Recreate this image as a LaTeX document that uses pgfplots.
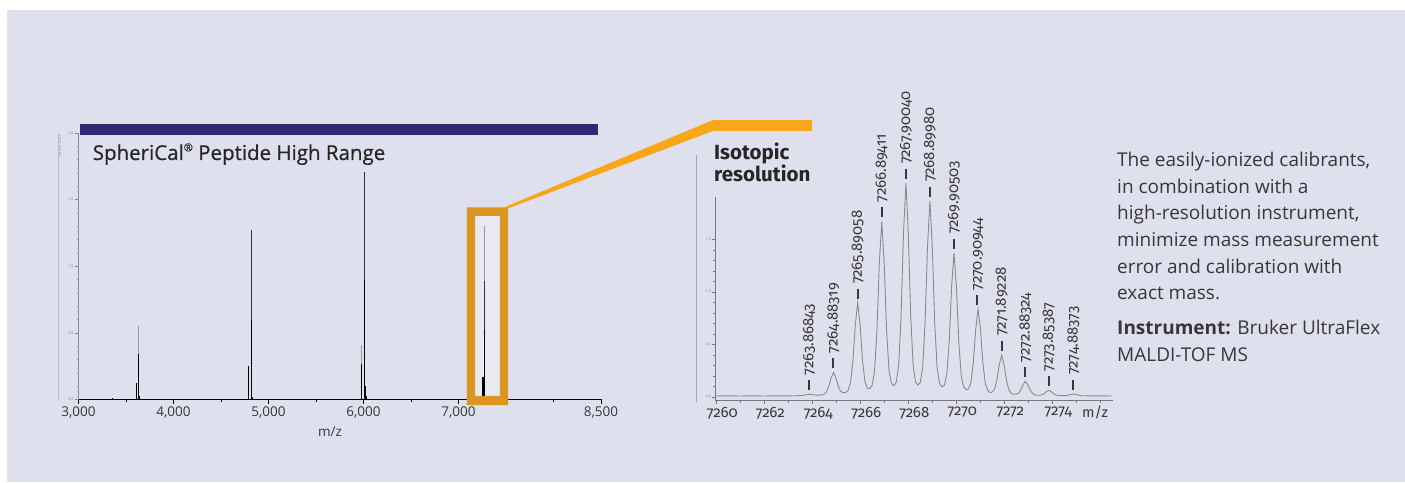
\documentclass[border=0pt]{standalone}
\usepackage{fontspec}
\setmainfont{Open Sans}
\newfontfamily\titlefont{Open Sans}[FakeBold=0.7]
\newfontfamily\fira[Numbers=OldStyle]{Fira Sans}
\usepackage{pgfplots}
\pgfplotsset{compat=1.18}

\definecolor{panel}{RGB}{223,224,238}
\definecolor{navy}{RGB}{47,42,120}
\definecolor{orangebar}{RGB}{249,166,27}
\definecolor{boxorange}{RGB}{218,150,32}
\definecolor{boxin}{RGB}{233,233,242}
\definecolor{txt}{RGB}{55,55,55}
\definecolor{curve}{RGB}{138,138,138}
\definecolor{axgray}{RGB}{120,120,120}

\newcommand\pk[1]{\hspace{4pt}\rule[0.22em]{10pt}{2pt}\hspace{5pt}#1}

\begin{document}
\begin{tikzpicture}
\path[use as bounding box] (0pt,0pt) rectangle (1405pt,482pt);
\begin{scope}[x=1pt,y=1pt]
  \fill[white] (0,0) rectangle (1405,482);
  \fill[panel] (7,0) rectangle (1405,472);
  % title bar
  \fill[navy] (80,347) rectangle (598,358);
  % inside of the zoom box
  \fill[boxin] (475,86) rectangle (500,266);
  % faint image borders
  \draw[black!25, line width=0.5pt] (58,82) -- (58,349);
  \draw[black!35, line width=0.6pt] (696,80) -- (696,327);
\end{scope}

% ---------------- full spectrum ----------------
\begin{axis}[
  at={(78.5pt,82.5pt)}, anchor=south west,
  scale only axis, width=522.5pt, height=266.5pt,
  xmin=3000, xmax=8500, ymin=0, ymax=2,
  axis x line*=bottom, axis y line*=left,
  x axis line style={black, line width=1.6pt},
  y axis line style={black!45, line width=0.5pt},
  xtick={3000,4000,5000,6000,7000,8500},
  xticklabels={{3,000},{4,000},{5,000},{6,000},{7,000},{8,500}},
  minor xtick={3500,4500,5500,6500,7500,8000},
  ytick={0,0.5,1,1.5,2},
  yticklabels={0.0,0.5,1.0,1.5,2.0},
  minor y tick num=4,
  tick align=outside,
  major tick length=4pt, minor tick length=2pt,
  x tick style={black, line width=1pt},
  y tick style={black!45, line width=0.4pt},
  xticklabel style={font=\fontsize{13.5}{14}\selectfont, text=txt},
  yticklabel style={font=\fontsize{3.5}{4}\selectfont, text=black!50, inner sep=1pt},
  clip=false,
]
\addplot[ycomb, black!40, line width=0.8pt] coordinates {
  (3630,0.553) (7268,1.300) (5978,0.410)
};
\addplot[ycomb, black!80, line width=0.8pt] coordinates {
  (4815,1.269) (6005,1.709) (4818,0.869) (7270,0.887)
};
\addplot[ycomb, black, line width=0.8pt] coordinates {
  (3630,0.339) (3613,0.126) (4790,0.251) (5980,0.266) (6015,0.100)
  (7268,0.523) (3360,0.015) (3642,0.030) (4830,0.020) (6028,0.030) (7285,0.030)
  (4815,0.600) (6005,0.900)
};
\addplot[ycomb, black, line width=3pt] coordinates {(7261,0.170)};
\end{axis}

\begin{scope}[x=1pt,y=1pt]
  % zoom box frame
  \fill[boxorange, even odd rule] (466.9,77) rectangle (508.1,274.7)
                                  (475.1,86) rectangle (499.8,266);
  % connector and bar
  \fill[orangebar] (506,275.5) -- (713,362) -- (713,351) -- (506,272.8) -- cycle;
  \fill[orangebar] (713,351) rectangle (812,362);
  % texts
  \node[anchor=base west, inner sep=0, font=\titlefont\fontsize{20.5}{24}\selectfont, text=black!85]
    at (92.6,322) {SpheriCal\raisebox{0.42em}{\fontsize{11}{11}\selectfont ®} Peptide High Range};
  \node[font=\fontsize{13.5}{14}\selectfont, text=txt] at (330,50.3) {m/z};
  \node[rotate=90, font=\fontsize{3.5}{4}\selectfont, text=black!50] at (60,336) {Intens. [a.u.]};
  \node[anchor=base west, inner sep=0, font=\fira\bfseries\fontsize{20.5}{24}\selectfont, text=black!85]
    at (714,322) {Isotopic};
  \node[anchor=base west, inner sep=0, font=\fira\bfseries\fontsize{20.5}{24}\selectfont, text=black!85]
    at (714,300.3) {resolution};
  \node[font=\fira\fontsize{14.5}{15}\selectfont, text=txt] at (1095,70) {m/z};
  \begin{scope}[every node/.style={anchor=base west, inner sep=0, font=\fontsize{19}{22}\selectfont, text=txt}]
    \node at (1117,315.3) {The easily-ionized calibrants,};
    \node at (1117,288.7) {in combination with a};
    \node at (1117,262.0) {high-resolution instrument,};
    \node at (1117,235.3) {minimize mass measurement};
    \node at (1117,208.7) {error and calibration with};
    \node at (1117,182.0) {exact mass.};
    \node at (1117,147.0) {\textbf{Instrument:} Bruker UltraFlex};
    \node at (1117,120.3) {MALDI-TOF MS};
  \end{scope}
\end{scope}

% ---------------- isotopic pattern ----------------
\begin{axis}[
  at={(715pt,81.3pt)}, anchor=south west,
  scale only axis, width=398pt, height=204pt,
  xmin=7259.946, xmax=7276.53, ymin=-0.038, ymax=1.905,
  axis x line*=bottom, axis y line*=left,
  axis line style={axgray, line width=0.6pt},
  xtick={7260,7262,7264,7266,7268,7270,7272,7274},
  xticklabels={7260,7262,7264,7266,7268,7270,7272,7274},
  minor xtick={7261,7263,7265,7267,7269,7271,7273,7275,7276},
  ytick={0,0.5,1,1.5},
  yticklabels={0.0,0.5,1.0,1.5},
  minor y tick num=4,
  tick align=outside,
  major tick length=3pt, minor tick length=2pt,
  tick style={axgray, line width=0.4pt},
  xticklabel style={font=\fira\fontsize{15}{16}\selectfont, text=txt, xshift=6pt},
  yticklabel style={font=\fontsize{3.5}{4}\selectfont, text=black!50, inner sep=1pt},
  clip=false,
]
\addplot[curve, line width=0.9pt] table {
x y
7259.95 0.007
7260.50 0.008
7261.00 0.007
7261.50 0.008
7262.00 0.007
7262.50 0.008
7263.00 0.008
7263.30 0.009
7263.468 0.011
7263.568 0.012
7263.668 0.015
7263.768 0.020
7263.868 0.023
7263.968 0.021
7264.068 0.017
7264.168 0.015
7264.268 0.015
7264.375 0.016
7264.483 0.023
7264.583 0.042
7264.683 0.094
7264.783 0.178
7264.883 0.231
7264.983 0.181
7265.083 0.099
7265.183 0.051
7265.283 0.038
7265.387 0.040
7265.491 0.060
7265.591 0.133
7265.691 0.340
7265.791 0.683
7265.891 0.893
7265.991 0.687
7266.091 0.349
7266.191 0.148
7266.291 0.082
7266.392 0.076
7266.494 0.109
7266.594 0.244
7266.694 0.632
7266.794 1.276
7266.894 1.669
7266.994 1.280
7267.094 0.639
7267.194 0.255
7267.294 0.127
7267.397 0.105
7267.500 0.139
7267.600 0.301
7267.700 0.772
7267.800 1.556
7267.900 2.034
7268.000 1.557
7268.100 0.773
7268.200 0.303
7268.300 0.142
7268.400 0.111
7268.500 0.136
7268.600 0.282
7268.700 0.711
7268.800 1.427
7268.900 1.863
7269.000 1.425
7269.100 0.707
7269.200 0.276
7269.300 0.127
7269.402 0.094
7269.505 0.110
7269.605 0.214
7269.705 0.527
7269.805 1.050
7269.905 1.368
7270.005 1.047
7270.105 0.520
7270.205 0.204
7270.305 0.094
7270.407 0.067
7270.509 0.074
7270.609 0.136
7270.709 0.324
7270.809 0.640
7270.909 0.832
7271.009 0.637
7271.109 0.318
7271.209 0.126
7271.309 0.059
7271.400 0.041
7271.492 0.043
7271.592 0.071
7271.692 0.159
7271.792 0.307
7271.892 0.396
7271.992 0.304
7272.092 0.155
7272.192 0.064
7272.292 0.032
7272.388 0.023
7272.483 0.023
7272.583 0.032
7272.683 0.063
7272.783 0.115
7272.883 0.147
7272.983 0.114
7273.083 0.061
7273.183 0.029
7273.283 0.017
7273.368 0.014
7273.454 0.014
7273.554 0.017
7273.654 0.029
7273.754 0.048
7273.854 0.060
7273.954 0.048
7274.054 0.028
7274.154 0.016
7274.254 0.012
7274.369 0.010
7274.484 0.010
7274.584 0.011
7274.684 0.015
7274.784 0.022
7274.884 0.026
7274.984 0.022
7275.084 0.015
7275.184 0.010
7275.284 0.009
7275.800 0.008
7276.500 0.007
};
\begin{scope}[every node/.style={rotate=90, anchor=west, inner sep=0,
    font=\fira\fontsize{15}{16}\selectfont, text=txt}]
\node at (axis cs:7263.868,0.023) {\pk{7263.86843}};
\node at (axis cs:7264.883,0.231) {\pk{7264.88319}};
\node at (axis cs:7265.891,0.893) {\pk{7265.89058}};
\node at (axis cs:7266.894,1.669) {\pk{7266.89411}};
\node at (axis cs:7267.900,2.034) {\pk{7267.90040}};
\node at (axis cs:7268.900,1.863) {\pk{7268.89980}};
\node at (axis cs:7269.905,1.368) {\pk{7269.90503}};
\node at (axis cs:7270.909,0.832) {\pk{7270.90944}};
\node at (axis cs:7271.892,0.396) {\pk{7271.89228}};
\node at (axis cs:7272.883,0.147) {\pk{7272.88324}};
\node at (axis cs:7273.854,0.060) {\pk{7273.85387}};
\node at (axis cs:7274.884,0.026) {\pk{7274.88373}};
\end{scope}
\end{axis}
\end{tikzpicture}
\end{document}
